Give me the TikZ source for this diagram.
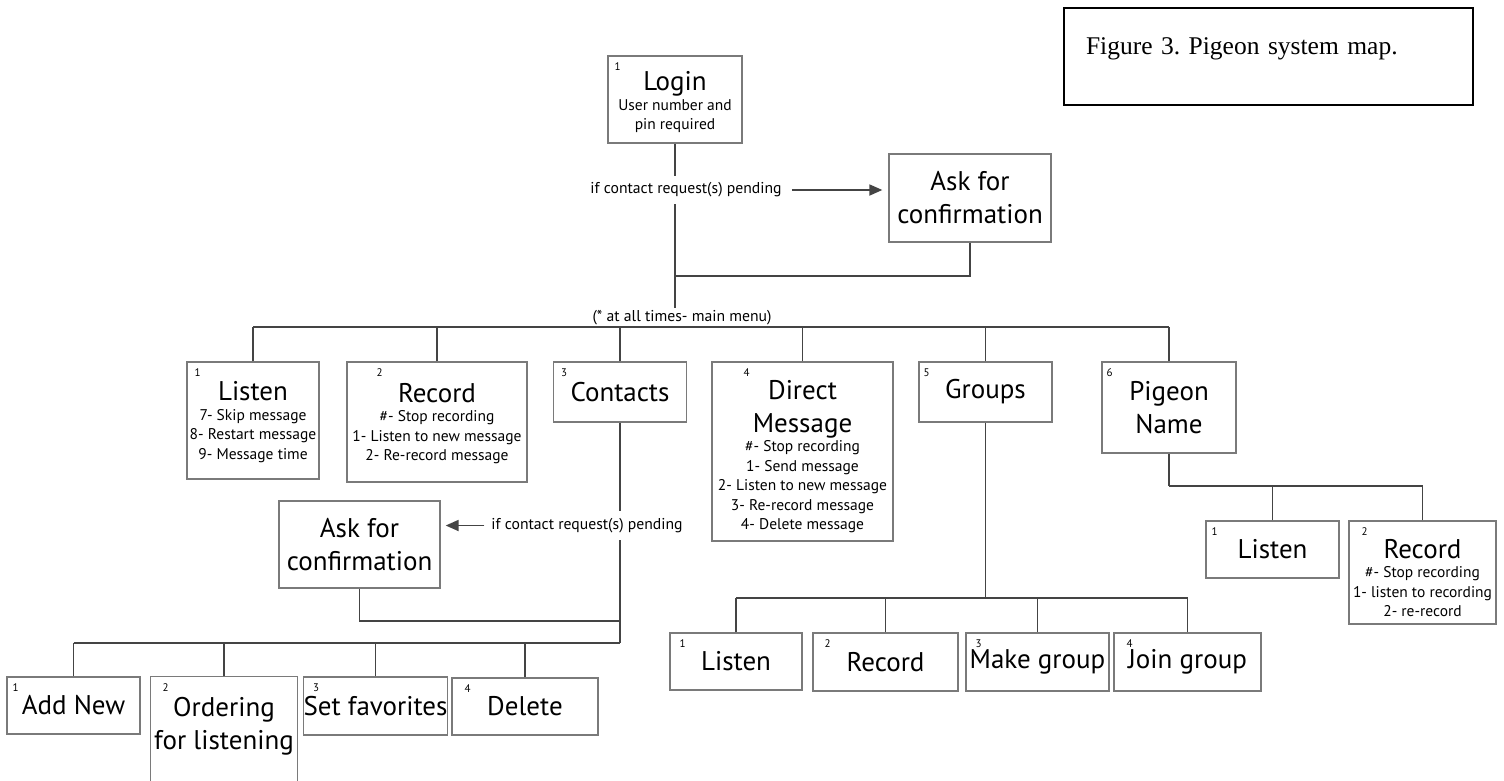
\documentclass[tikz,border=0pt]{standalone}
\usepackage{fontspec}
\setmainfont{PT Sans}
\newfontfamily\capfont{Liberation Serif}
\usetikzlibrary{arrows.meta}
\definecolor{boxgray}{HTML}{7A7A7A}
\definecolor{linegray}{HTML}{444444}
\newcommand{\boxhead}[1]{{\fontsize{27}{32}\selectfont #1}}
\frenchspacing
\begin{document}
\begin{tikzpicture}[x=1pt,y=-1pt,
  box/.style={draw=boxgray, line width=1.3pt, inner sep=0pt, align=center, font=\fontsize{15.5}{19.5}\selectfont, text=black},
  hbox/.style={box, font=\fontsize{27}{33}\selectfont},
  boxline/.style={draw=boxgray, line width=1.3pt},
  numlab/.style={anchor=north west, inner sep=0pt, font=\fontsize{11}{11}\selectfont, yshift=-7.5pt},
  nl/.style 2 args={label={[numlab,xshift=#1]north west:#2}},
  conn/.style={draw=linegray, line width=1.8pt},
  arr/.style={conn, -{Triangle[length=13pt,width=11pt]}},
  lbl/.style={inner sep=0pt, font=\fontsize{15.7}{19.5}\selectfont}
]
\useasboundingbox (0,0) rectangle (1504,780);
\clip (0,0) rectangle (1504,780);
\fill[white] (0,0) rectangle (1504,780);

% caption
\node[draw=black, line width=2pt, minimum width=409pt, minimum height=97pt, inner xsep=22pt, inner ysep=0pt, text width=365pt, align=left, text height=46pt, text depth=51pt, font=\capfont\fontsize{25.5}{30}\selectfont, anchor=north west] (cap) at (1063,7) {Figure 3. Pigeon system map.};

% top
\node[box, minimum width=134pt, minimum height=87pt, nl={7pt}{1}] (login) at (675,99.5) {\rule{0pt}{25pt}\boxhead{Login}\\User number and\\pin required};
\node[hbox, minimum width=162pt, minimum height=88pt] (ask1) at (970,198) {Ask for\\confirmation};
\node[lbl, minimum height=28pt, inner xsep=10pt] (lblA) at (686,190) {if contact request(s) pending};
\node[lbl, minimum height=19pt] (lblB) at (682,317.5) {(* at all times- main menu)};

% main menu
\node[box, minimum width=132pt, minimum height=117pt, nl={8pt}{1}] (listen) at (253,420.5) {\rule{0pt}{22pt}\boxhead{Listen}\\7- Skip message\\8- Restart message\\9- Message time};
\node[box, minimum width=180pt, minimum height=120pt, nl={30pt}{2}] (record) at (437,422) {\rule{0pt}{22pt}\boxhead{Record}\\\#- Stop recording\\1- Listen to new message\\2- Re-record message};
\node[hbox, minimum width=133pt, minimum height=60pt, nl={8pt}{3}] (contacts) at (620,392) {Contacts};
\node[box, minimum width=181pt, minimum height=179pt, nl={32pt}{4}] (dm) at (802.5,451.5) {\rule{0pt}{30pt}\boxhead{Direct}\\[13pt]\boxhead{Message}\\\#- Stop recording\\1- Send message\\2- Listen to new message\\3- Re-record message\\4- Delete message};
\node[hbox, minimum width=133pt, minimum height=60pt, nl={5pt}{5}] (groups) at (985.5,392) {Groups};
\node[hbox, minimum width=134pt, minimum height=91pt, nl={5pt}{6}] (pn) at (1169,407.5) {Pigeon\\Name};

% contacts subtree
\node[hbox, minimum width=161pt, minimum height=87pt] (ask2) at (359.5,544.5) {Ask for\\confirmation};
\node[lbl, minimum height=29pt, inner xsep=7pt] (lblC) at (587,525.5) {if contact request(s) pending};
\node[hbox, minimum width=133pt, minimum height=57pt, nl={6pt}{1}] (addnew) at (73.5,705.5) {Add New};
\node[hbox, draw=none, minimum width=146pt, minimum height=98pt, nl={12pt}{2}] (order) at (224,726) {Ordering\\for listening};
\draw[boxline] ([yshift=-30pt]order.south west) -- (order.north west) -- (order.north east) -- ([yshift=-30pt]order.south east);
\node[hbox, minimum width=143pt, minimum height=58pt, nl={10pt}{3}] (setfav) at (375.5,706) {Set favorites};
\node[hbox, minimum width=146pt, minimum height=57pt, nl={13pt}{4}] (delete) at (525,706.5) {Delete};

% groups subtree
\node[hbox, minimum width=132pt, minimum height=57pt, nl={10pt}{1}] (gl) at (736,661.5) {Listen};
\node[hbox, minimum width=145pt, minimum height=58pt, nl={12pt}{2}] (gr) at (885.5,662) {Record};
\node[hbox, minimum width=143pt, minimum height=58pt, nl={10pt}{3}] (mk) at (1037.5,662) {Make group};
\node[hbox, minimum width=147pt, minimum height=58pt, nl={13pt}{4}] (jn) at (1187.5,662) {Join group};

% pigeon name subtree
\node[hbox, minimum width=133pt, minimum height=57pt, nl={6pt}{1}] (pnl) at (1272.5,549.5) {Listen};
\node[box, minimum width=147pt, minimum height=103pt, nl={13pt}{2}] (pnr) at (1422.5,572.5) {\rule{0pt}{30pt}\boxhead{Record}\\\#- Stop recording\\1- listen to recording\\2- re-record};

% coordinates
\coordinate (j1) at (675,276);
\coordinate (busL) at (253,327);
\coordinate (busR) at (1169,327);
\coordinate (j2) at (620,621);
\coordinate (cbusL) at (73.5,643);
\coordinate (cbusR) at (620,643);
\coordinate (gbusL) at (736,598);
\coordinate (gbusR) at (1187.5,598);
\coordinate (pbusL) at (1169,486);
\coordinate (pbusR) at (1422.5,486);

% connectors top
\draw[conn] (login.south) -- (login.south |- lblA.north);
\draw[conn] (login.south |- lblA.south) -- (login.south |- lblB.north);
\draw[arr, shorten >=6pt] (lblA.east) -- (lblA.east -| ask1.west);
\draw[conn] (ask1.south) |- (j1);

% main bus
\draw[conn] (busL) -- (busR);
\foreach \n in {listen,record,contacts,dm,groups,pn} \draw[conn] (\n.north) -- (\n.north |- busL);

% contacts
\draw[conn] (contacts.south) -- (contacts.south |- lblC.north);
\draw[conn] (contacts.south |- lblC.south) -- (cbusR);
\draw[arr, shorten >=5pt] (lblC.west) -- (lblC.west -| ask2.east);
\draw[conn] (ask2.south) |- (j2);
\draw[conn] (cbusL) -- (cbusR);
\foreach \n in {addnew,order,setfav,delete} \draw[conn] (\n.north) -- (\n.north |- cbusL);

% groups
\draw[conn] (groups.south) -- (groups.south |- gbusL);
\draw[conn] (gbusL) -- (gbusR);
\foreach \n in {gl,gr,mk,jn} \draw[conn] (\n.north) -- (\n.north |- gbusL);

% pigeon name
\draw[conn] (pn.south) -- (pbusL);
\draw[conn] (pbusL) -- (pbusR);
\foreach \n in {pnl,pnr} \draw[conn] (\n.north) -- (\n.north |- pbusL);
\end{tikzpicture}
\end{document}
